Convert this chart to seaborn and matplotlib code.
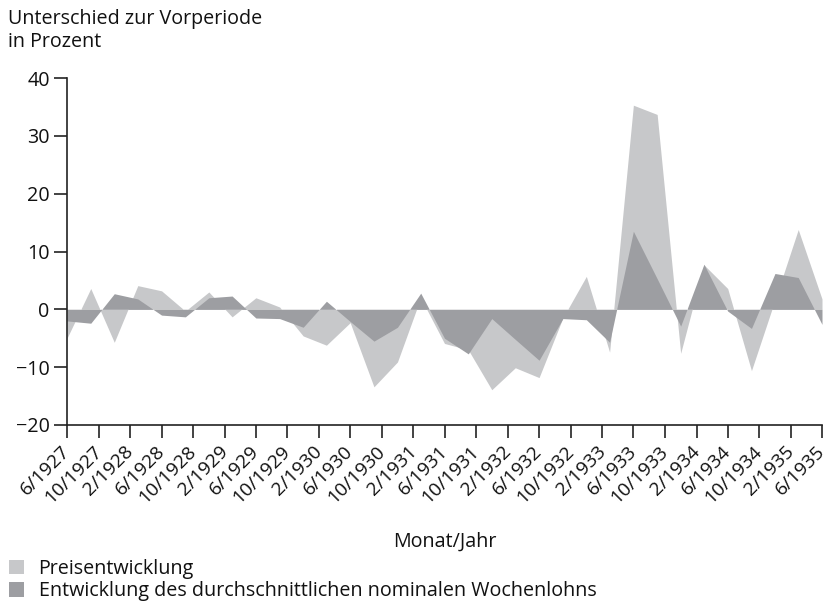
import matplotlib
matplotlib.use("Agg")
import matplotlib.pyplot as plt
import matplotlib.transforms as mtransforms
from matplotlib.patches import Patch
import seaborn as sns
import pandas as pd

# quarterly observations, 6/1927 .. 6/1935
dates = pd.date_range("1927-06-01", "1935-06-01", freq="3MS")
price = [-5.0, 3.6, -5.7, 4.1, 3.2, -0.3, 3.0, -1.3, 2.0, 0.4, -4.6, -6.2, -2.3,
         -13.4, -9.1, 2.0, -5.9, -7.0, -13.9, -10.1, -11.8, -1.5, 5.7, -7.4,
         35.3, 33.7, -7.6, 7.7, 3.6, -10.6, 1.6, 13.8, 1.8]
wage = [-2.0, -2.4, 2.7, 1.8, -1.0, -1.3, 2.0, 2.3, -1.5, -1.6, -3.1, 1.4, -2.1,
        -5.5, -3.1, 2.8, -5.0, -7.7, -1.6, -5.2, -8.8, -1.6, -1.8, -5.7,
        13.5, 5.3, -2.9, 7.8, -0.3, -3.3, 6.2, 5.5, -2.6]
tick_dates = pd.date_range("1927-06-01", "1935-06-01", freq="4MS")
tick_labels = [f"{d.month}/{d.year}" for d in tick_dates]
y_ticks = [-20, -10, 0, 10, 20, 30, 40]

series_names = ["Preisentwicklung",
                "Entwicklung des durchschnittlichen nominalen Wochenlohns"]
colors = ["#c7c8ca", "#9d9ea2"]

df = pd.DataFrame({"date": dates, series_names[0]: price, series_names[1]: wage})

sns.set_theme(style="ticks")
plt.rcParams["font.family"] = ["Open Sans", "DejaVu Sans"]
plt.rcParams["axes.unicode_minus"] = True

FS = 14.2
fig = plt.figure(figsize=(8.29, 6.07), dpi=100)
ax = fig.add_axes([67/829, 1-425/607, (822-67)/829, (425-78)/607])

for name, col in zip(series_names, colors):
    sns.lineplot(data=df, x="date", y=name, ax=ax, color=col, linewidth=0)
    ax.fill_between(df["date"], 0, df[name], color=col, linewidth=0)

ax.set_xlim(dates[0], dates[-1])
ax.set_ylim(-20, 40)
ax.set_yticks(y_ticks)
ax.set_yticklabels([f"{v}".replace("-", "\u2212") for v in y_ticks])
ax.set_xticks(tick_dates)
ax.set_xticklabels(tick_labels, rotation=45, ha="right", va="top",
                   rotation_mode="anchor")
ax.tick_params(axis="both", labelsize=FS, length=9.5, width=1.2, color="#222222",
               labelcolor="#111111", pad=3)
ax.tick_params(axis="x", labelsize=13.8)
shift = mtransforms.ScaledTranslation(-6/100, 0, fig.dpi_scale_trans)
for lbl in ax.get_xticklabels():
    lbl.set_transform(lbl.get_transform() + shift)
for s in ["top", "right"]:
    ax.spines[s].set_visible(False)
for s in ["left", "bottom"]:
    ax.spines[s].set_linewidth(1.2)
    ax.spines[s].set_color("#222222")
ax.set_xlabel("")
ax.set_ylabel("")

fig.text(8/829, 1-9/607, "Unterschied zur Vorperiode\nin Prozent", ha="left",
         va="top", fontsize=FS, color="#111111", linespacing=1.2)
fig.text(445/829, 1-547/607, "Monat/Jahr", ha="center", va="baseline",
         fontsize=FS, color="#111111")

handles = [Patch(facecolor=c, edgecolor="none") for c in colors]
fig.legend(handles, series_names, loc="upper left",
           bbox_to_anchor=(9/829, 1-559/607), frameon=False, fontsize=FS,
           handlelength=0.75, handleheight=0.75, handletextpad=0.75,
           labelspacing=0.12, borderpad=0, borderaxespad=0, labelcolor="#111111")

fig.savefig("out.png", dpi=100)
